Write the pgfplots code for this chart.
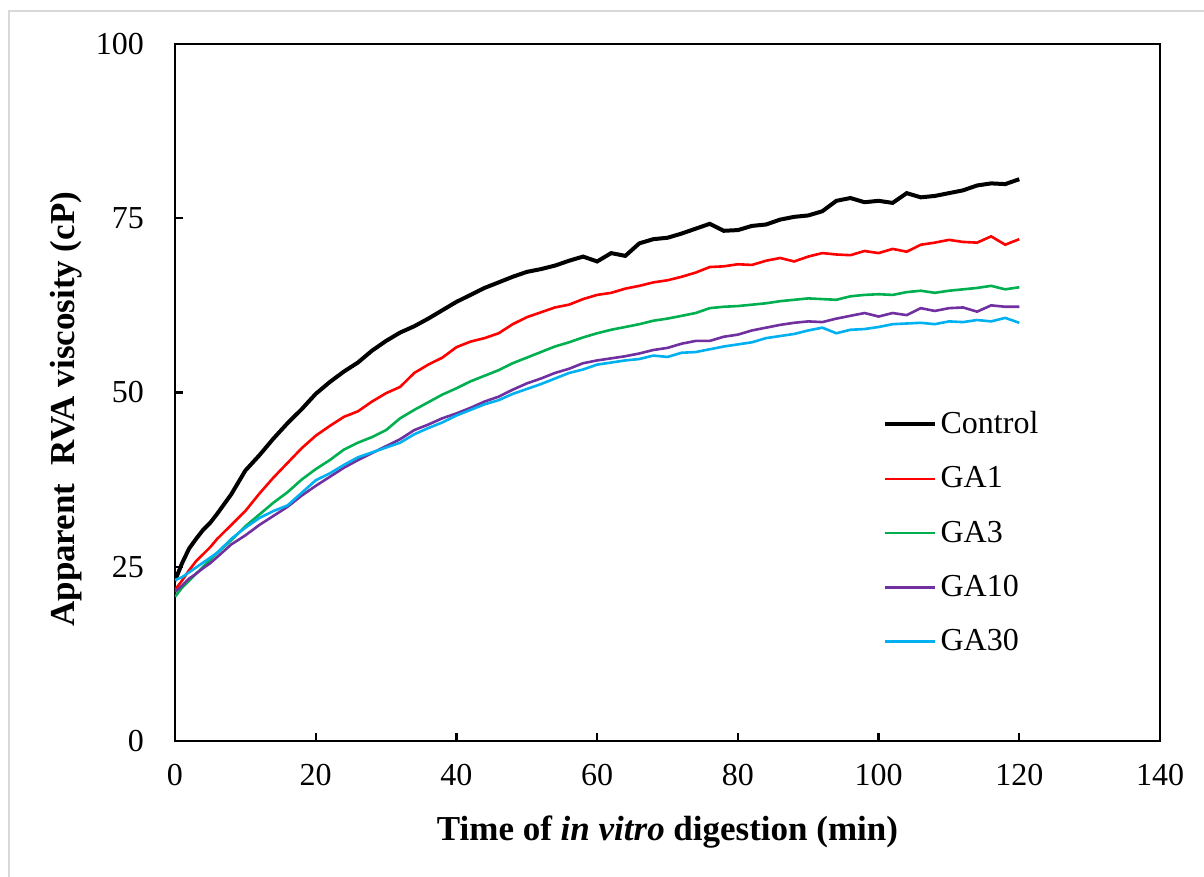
\documentclass[border=0pt]{standalone}
\usepackage{fontspec}
\setmainfont{Liberation Serif}
\usepackage{pgfplots}
\pgfplotsset{compat=1.18}
\definecolor{cGAone}{RGB}{255,0,0}
\definecolor{cGAthree}{RGB}{0,176,80}
\definecolor{cGAten}{RGB}{112,48,160}
\definecolor{cGAthirty}{RGB}{0,176,240}
\definecolor{frame}{RGB}{217,217,217}
\begin{document}
\begin{tikzpicture}
\begin{axis}[
  name=ax,
  scale only axis,
  width=492.5pt, height=348.5pt,
  xmin=0, xmax=140, ymin=0, ymax=100,
  xtick={0,20,...,140}, ytick={0,25,50,75,100},
  tick align=inside,
  major tick length=4pt,
  axis line style={line width=1.1pt},
  every tick/.style={black, line width=1.1pt},
  xtick pos=bottom, ytick pos=left,
  /pgf/number format/assume math mode=true,
  tick label style={font=\fontsize{16}{19}\selectfont},
  xticklabel style={yshift=-8pt},
  yticklabel style={xshift=-12pt},
  xlabel={\textbf{Time of \textit{in vitro} digestion (min)}},
  ylabel={\textbf{Apparent\ \ RVA viscosity (cP)}},
  label style={font=\fontsize{17.5}{21}\selectfont},
  xlabel style={at={(axis description cs:0.5,0)}, anchor=center, yshift=-45.5pt},
  ylabel style={at={(axis description cs:0,0.476)}, anchor=center, yshift=54.5pt},
  legend style={draw=none, fill=none, at={(axis description cs:0.718,0.479)}, anchor=north west,
    font=\fontsize{16}{19}\selectfont, row sep=11pt, inner sep=0pt},
  legend cell align=left,
  legend image code/.code={\draw[#1] (0pt,0pt) -- (25pt,0pt);},
]
\addplot[black, line width=2pt] coordinates {
(0,23.0)(1,25.5)(2,27.6)(3,29.0)(4,30.3)(5,31.3)(6,32.6)(8,35.4)(10,38.8)(12,41.0)(14,43.4)(16,45.6)(18,47.6)(20,49.8)(22,51.5)(24,53.0)(26,54.3)(28,56.0)(30,57.4)(32,58.6)(34,59.5)(36,60.6)(38,61.8)(40,63.0)(42,64.0)(44,65.0)(46,65.8)(48,66.6)(50,67.3)(52,67.7)(54,68.2)(56,68.9)(58,69.5)(60,68.8)(62,70.0)(64,69.6)(66,71.4)(68,72.0)(70,72.2)(72,72.8)(74,73.5)(76,74.2)(78,73.2)(80,73.3)(82,73.9)(84,74.1)(86,74.8)(88,75.2)(90,75.4)(92,76.0)(94,77.5)(96,77.9)(98,77.3)(100,77.5)(102,77.2)(104,78.6)(106,78.0)(108,78.2)(110,78.6)(112,79.0)(114,79.7)(116,80.0)(118,79.9)(120,80.6)};
\addlegendentry{Control}
\addplot[cGAone, line width=1.3pt] coordinates {
(0,21.7)(1,23.0)(2,24.5)(3,25.8)(4,26.8)(5,27.8)(6,29.0)(8,31.0)(10,33.0)(12,35.5)(14,37.8)(16,39.9)(18,42.0)(20,43.8)(22,45.2)(24,46.5)(26,47.3)(28,48.7)(30,49.9)(32,50.8)(34,52.8)(36,54.0)(38,55.0)(40,56.5)(42,57.3)(44,57.8)(46,58.5)(48,59.8)(50,60.8)(52,61.5)(54,62.2)(56,62.6)(58,63.4)(60,64.0)(62,64.3)(64,64.9)(66,65.3)(68,65.8)(70,66.1)(72,66.6)(74,67.2)(76,68.0)(78,68.1)(80,68.4)(82,68.3)(84,68.9)(86,69.3)(88,68.8)(90,69.5)(92,70.0)(94,69.8)(96,69.7)(98,70.3)(100,70.0)(102,70.6)(104,70.2)(106,71.2)(108,71.5)(110,71.9)(112,71.6)(114,71.5)(116,72.4)(118,71.2)(120,72.0)};
\addlegendentry{GA1}
\addplot[cGAthree, line width=1.3pt] coordinates {
(0,20.7)(1,22.0)(2,23.0)(3,24.0)(4,25.0)(5,26.0)(6,27.0)(8,28.8)(10,30.8)(12,32.5)(14,34.2)(16,35.7)(18,37.5)(20,39.0)(22,40.3)(24,41.8)(26,42.8)(28,43.6)(30,44.6)(32,46.3)(34,47.5)(36,48.6)(38,49.7)(40,50.6)(42,51.6)(44,52.4)(46,53.2)(48,54.2)(50,55.0)(52,55.8)(54,56.6)(56,57.2)(58,57.9)(60,58.5)(62,59.0)(64,59.4)(66,59.8)(68,60.3)(70,60.6)(72,61.0)(74,61.4)(76,62.1)(78,62.3)(80,62.4)(82,62.6)(84,62.8)(86,63.1)(88,63.3)(90,63.5)(92,63.4)(94,63.3)(96,63.8)(98,64.0)(100,64.1)(102,64.0)(104,64.4)(106,64.6)(108,64.3)(110,64.6)(112,64.8)(114,65.0)(116,65.3)(118,64.8)(120,65.1)};
\addlegendentry{GA3}
\addplot[cGAten, line width=1.3pt] coordinates {
(0,21.4)(1,22.3)(2,23.3)(3,24.0)(4,24.8)(5,25.5)(6,26.4)(8,28.2)(10,29.5)(12,31.0)(14,32.3)(16,33.6)(18,35.2)(20,36.6)(22,37.9)(24,39.2)(26,40.3)(28,41.3)(30,42.3)(32,43.3)(34,44.6)(36,45.4)(38,46.3)(40,47.0)(42,47.8)(44,48.7)(46,49.4)(48,50.4)(50,51.3)(52,52.0)(54,52.8)(56,53.4)(58,54.2)(60,54.6)(62,54.9)(64,55.2)(66,55.6)(68,56.1)(70,56.4)(72,57.0)(74,57.4)(76,57.4)(78,58.0)(80,58.3)(82,58.9)(84,59.3)(86,59.7)(88,60.0)(90,60.2)(92,60.1)(94,60.6)(96,61.0)(98,61.4)(100,60.9)(102,61.4)(104,61.1)(106,62.1)(108,61.7)(110,62.1)(112,62.2)(114,61.6)(116,62.5)(118,62.3)(120,62.3)};
\addlegendentry{GA10}
\addplot[cGAthirty, line width=1.3pt] coordinates {
(0,23.1)(1,23.5)(2,24.2)(3,24.9)(4,25.6)(5,26.3)(6,27.0)(8,29.0)(10,30.6)(12,32.0)(14,33.0)(16,33.8)(18,35.6)(20,37.4)(22,38.4)(24,39.6)(26,40.7)(28,41.4)(30,42.1)(32,42.8)(34,44.0)(36,44.9)(38,45.7)(40,46.7)(42,47.5)(44,48.3)(46,48.9)(48,49.8)(50,50.5)(52,51.2)(54,52.0)(56,52.8)(58,53.3)(60,54.0)(62,54.3)(64,54.6)(66,54.8)(68,55.3)(70,55.1)(72,55.7)(74,55.8)(76,56.2)(78,56.6)(80,56.9)(82,57.2)(84,57.8)(86,58.1)(88,58.4)(90,58.9)(92,59.3)(94,58.5)(96,59.0)(98,59.1)(100,59.4)(102,59.8)(104,59.9)(106,60.0)(108,59.8)(110,60.2)(112,60.1)(114,60.4)(116,60.2)(118,60.7)(120,60.0)};
\addlegendentry{GA30}
\end{axis}
\path[use as bounding box] ([xshift=-87.5pt,yshift=-68pt]ax.south west) rectangle ([xshift=22pt,yshift=22pt]ax.north east);
\draw[frame, line width=1pt] ([xshift=-83pt,yshift=-68pt]ax.south west) -- ([xshift=-83pt,yshift=16.5pt]ax.north west) -- ([xshift=22pt,yshift=16.5pt]ax.north east);
\end{tikzpicture}
\end{document}
